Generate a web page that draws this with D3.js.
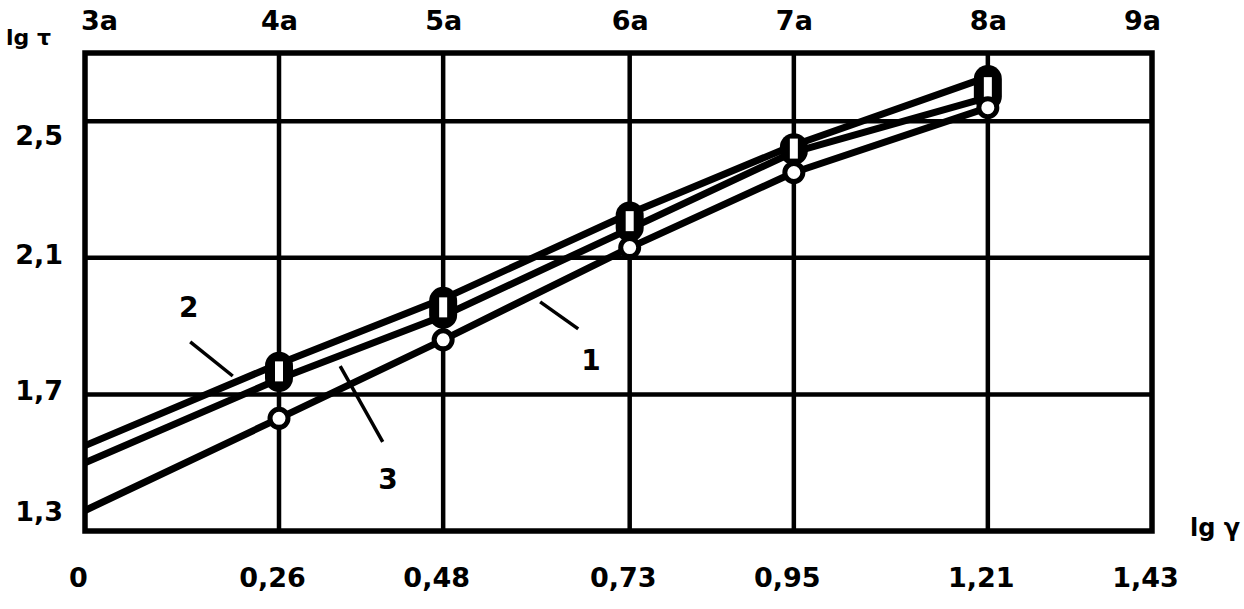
<!DOCTYPE html>
<html>
<head>
<meta charset="utf-8">
<script src="https://cdn.jsdelivr.net/npm/d3@7"></script>
<style>
  html, body { margin: 0; padding: 0; background: #fff; }
  svg { display: block; }
  text { font-family: "DejaVu Sans", sans-serif; font-weight: bold; fill: #000; }
</style>
</head>
<body>
<svg id="chart" width="1244" height="609"></svg>
<script>
// ---- data ----
const xTicks = [0, 0.26, 0.48, 0.73, 0.95, 1.21, 1.43];
const xTickLabels = ["0", "0,26", "0,48", "0,73", "0,95", "1,21", "1,43"];
const topTickLabels = ["3a", "4a", "5a", "6a", "7a", "8a", "9a"];
const yTicks = [1.3, 1.7, 2.1, 2.5];
const yTickLabels = ["1,3", "1,7", "2,1", "2,5"];
const lgGamma = [0, 0.26, 0.48, 0.73, 0.95, 1.21];
const curve1 = [1.36, 1.63, 1.86, 2.13, 2.35, 2.54];
const curve2 = [1.55, 1.79, 1.98, 2.23, 2.43, 2.63];
const curve3 = [1.50, 1.745, 1.93, 2.185, 2.41, 2.57];
const curveNames = ["1", "2", "3"];
// annotation: label position and leader line (data coords)
const annLabelX = [0.678, 0.139, 0.406];
const annLabelY = [1.80, 1.956, 1.452];
const annFromX = [0.661, 0.141, 0.399];
const annFromY = [1.892, 1.854, 1.561];
const annToX = [0.610, 0.198, 0.342];
const annToY = [1.971, 1.754, 1.783];

// ---- layout ----
const svg = d3.select("#chart");
const mLeft = 85, mRight = 1152, mTop = 53, mBottom = 531;
const x = d3.scaleLinear().domain([0, 1.43]).range([mLeft, mRight]);
const y = d3.scaleLinear().domain([1.3, 2.7]).range([mBottom, mTop]);

// grid
const grid = svg.append("g").attr("stroke", "#000").attr("stroke-width", 4.5);
grid.selectAll("line.v").data(xTicks.slice(1, -1)).join("line")
  .attr("class", "v")
  .attr("x1", d => x(d)).attr("x2", d => x(d))
  .attr("y1", y(2.7)).attr("y2", y(1.3));
grid.selectAll("line.h").data(yTicks.slice(1)).join("line")
  .attr("class", "h")
  .attr("x1", x(0)).attr("x2", x(1.43))
  .attr("y1", d => y(d)).attr("y2", d => y(d));
svg.append("rect")
  .attr("x", x(0)).attr("y", y(2.7))
  .attr("width", x(1.43) - x(0)).attr("height", y(1.3) - y(2.7))
  .attr("fill", "none").attr("stroke", "#000").attr("stroke-width", 5.5);

// axes (labels only)
const bottomAxis = d3.axisBottom(x).tickValues(xTicks).tickSize(0).tickPadding(37)
  .tickFormat((d, i) => xTickLabels[i]);
const gB = svg.append("g").attr("transform", `translate(0,${mBottom})`).call(bottomAxis);
gB.select(".domain").remove();
gB.selectAll("text").attr("font-size", 27).attr("font-family", "DejaVu Sans")
  .attr("font-weight", "bold").attr("dx", -7);

const topAxis = d3.axisTop(x).tickValues(xTicks).tickSize(0).tickPadding(23)
  .tickFormat((d, i) => topTickLabels[i]);
const gT = svg.append("g").attr("transform", `translate(0,${mTop})`).call(topAxis);
gT.select(".domain").remove();
gT.selectAll("text").attr("font-size", 27).attr("font-family", "DejaVu Sans")
  .attr("font-weight", "bold")
  .attr("dx", (d, i) => i === 0 ? 14 : (i === xTicks.length - 1 ? -10 : 0));

const leftAxis = d3.axisLeft(y).tickValues(yTicks).tickSize(0).tickPadding(22)
  .tickFormat((d, i) => yTickLabels[i]);
const gL = svg.append("g").attr("transform", `translate(${mLeft},0)`).call(leftAxis);
gL.select(".domain").remove();
gL.selectAll("text").attr("font-size", 27).attr("font-family", "DejaVu Sans")
  .attr("font-weight", "bold")
  .attr("dy", (d, i) => i === 0 ? "-0.4em" : (d === 2.5 ? "0.85em" : "0.2em"));

// axis titles
svg.append("text").attr("x", 6).attr("y", 45).attr("font-size", 22).text("lg τ");
svg.append("text").attr("x", 1190).attr("y", 536).attr("font-size", 24).text("lg γ");

// curves
const line = d3.line().x(d => x(d[0])).y(d => y(d[1]));
const series = [curve1, curve2, curve3].map(vals => lgGamma.map((g, i) => [g, vals[i]]));
svg.append("g").selectAll("path").data(series).join("path")
  .attr("d", line).attr("fill", "none").attr("stroke", "#000")
  .attr("stroke-width", 7).attr("stroke-linejoin", "round");

// markers for curves 2 & 3 (joined blob with white rectangle)
const idx = d3.range(1, lgGamma.length);
const mk = svg.append("g");
mk.selectAll("rect.blob").data(idx).join("rect")
  .attr("class", "blob")
  .attr("x", i => x(lgGamma[i]) - 14)
  .attr("y", i => y(curve2[i]) - 12)
  .attr("width", 28)
  .attr("height", i => y(curve3[i]) - y(curve2[i]) + 25)
  .attr("rx", 14).attr("fill", "#000");
mk.selectAll("rect.hole").data(idx).join("rect")
  .attr("class", "hole")
  .attr("x", i => x(lgGamma[i]) - 4)
  .attr("y", i => (y(curve2[i]) + y(curve3[i])) / 2 - 10)
  .attr("width", 8).attr("height", 20)
  .attr("fill", "#fff");
// markers for curve 1
mk.selectAll("circle").data(idx).join("circle")
  .attr("cx", i => x(lgGamma[i])).attr("cy", i => y(curve1[i]))
  .attr("r", 9).attr("fill", "#fff").attr("stroke", "#000").attr("stroke-width", 5);

// annotations
const ann = svg.append("g");
ann.selectAll("line").data(curveNames).join("line")
  .attr("x1", (d, i) => x(annFromX[i])).attr("y1", (d, i) => y(annFromY[i]))
  .attr("x2", (d, i) => x(annToX[i])).attr("y2", (d, i) => y(annToY[i]))
  .attr("stroke", "#000").attr("stroke-width", 3.5);
ann.selectAll("text").data(curveNames).join("text")
  .attr("x", (d, i) => x(annLabelX[i])).attr("y", (d, i) => y(annLabelY[i]))
  .attr("dy", "0.36em").attr("text-anchor", "middle").attr("font-size", 28)
  .text(d => d);
</script>
</body>
</html>
